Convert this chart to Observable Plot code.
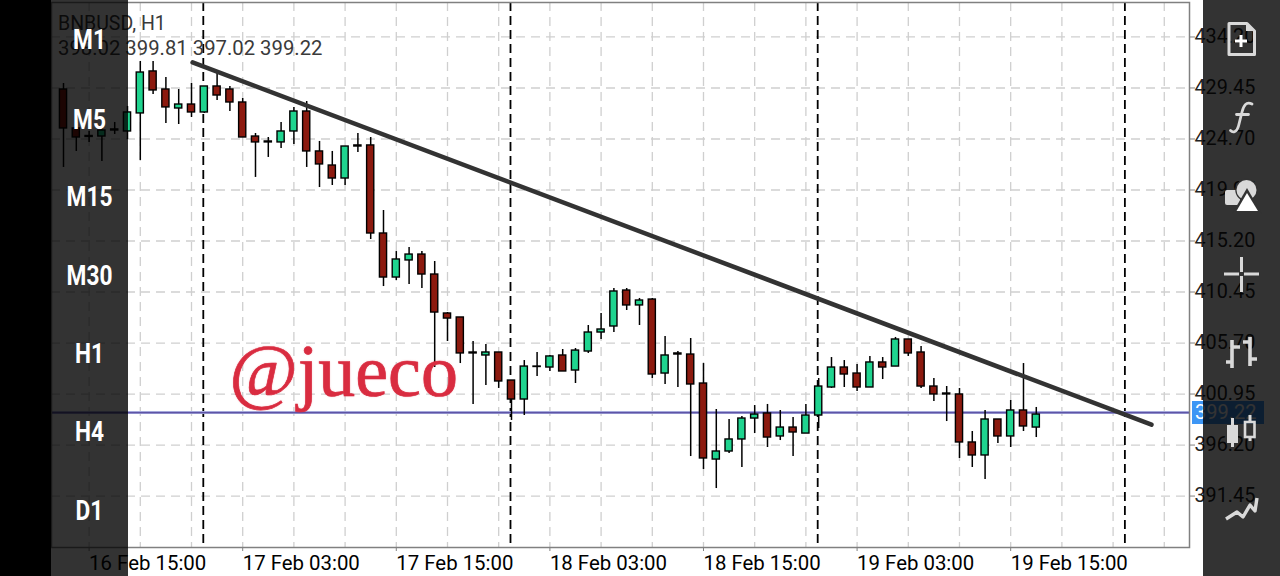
<!DOCTYPE html>
<html>
<head>
<meta charset="utf-8">
<script src="https://cdn.jsdelivr.net/npm/d3@7"></script>
<script src="https://cdn.jsdelivr.net/npm/@observablehq/plot@0.6"></script>
<style>
html,body{margin:0;padding:0;background:#000;width:1280px;height:576px;overflow:hidden}
#stage{position:relative;width:1280px;height:576px;overflow:hidden;font-family:Roboto,sans-serif}
#chart svg{display:block;background:#fff}
.abs{position:absolute}
.hdr{color:#3a3a3a;line-height:22px;white-space:nowrap;left:58px}
.tf{color:#fff;font-weight:700;font-size:27px;line-height:30px;left:51px;width:77px;text-align:center;transform:scaleX(.84)}
</style>
</head>
<body>
<div id="stage">
  <div id="chart"></div>
  <div class="abs" style="left:1192px;top:401px;width:72px;height:23px;background:#3d96f5;color:#fff;font-size:20px;line-height:23px;padding-left:3px;box-sizing:border-box">399.22</div>
  <div class="abs hdr" style="top:13px;font-size:19.5px">BNBUSD, H1</div>
  <div class="abs hdr" style="top:37px;font-size:20.3px">398.02 399.81 397.02 399.22</div>
  <div class="abs" id="wm" style="left:229.5px;top:329px;font-family:'Liberation Serif',serif;font-size:74px;line-height:84px;color:#d92c40;white-space:nowrap;-webkit-text-stroke:.7px #d92c40;text-shadow:0 0 2px rgba(217,44,64,.35)">@jueco</div>
  <div class="abs" style="left:0;top:0;width:51px;height:576px;background:#000"></div>
  <div class="abs" style="left:51px;top:0;width:77px;height:576px;background:rgba(0,0,0,.8)"></div>
  <div class="abs" style="left:1203px;top:0;width:77px;height:576px;background:rgba(0,0,0,.8)"></div>
  <div id="tfs"></div>
  <svg class="abs" style="left:1203px;top:0" width="77" height="576" viewBox="1203 0 77 576" fill="none" stroke="#d9d9d9" stroke-width="3">
    <path d="M1229 23.5H1247L1254.5 31V54.5H1229Z" stroke-linejoin="round"/>
    <path d="M1235 41H1247M1241 35V47" stroke="#fff"/>
    <path d="M1246 23L1246 31H1254.5Z" fill="#d9d9d9" stroke="none"/>
    <path d="M1252 104C1246 101,1243.5 106,1242 112L1238.5 126C1237 132,1233 133,1230.5 130.5M1236.5 114.5H1248.5" stroke-width="2.8" stroke-linecap="round"/>
    <rect x="1225" y="190" width="15" height="15" rx="2" fill="#d9d9d9" stroke="none"/>
    <circle cx="1246.5" cy="190" r="10" fill="#d9d9d9" stroke="#333" stroke-width="2.5" paint-order="stroke"/>
    <path d="M1247 188L1262 214H1232Z" fill="#333" stroke="none"/>
    <path d="M1247 193L1258 211H1236.5Z" fill="#fff" stroke="none"/>
    <path d="M1224 274H1239M1244 274H1259M1241.5 257V272M1241.5 276V292"/>
    <path d="M1232 340V368M1226 362H1232M1232 347H1240M1250 337V366M1243 342H1250M1250 359H1257" stroke-width="3.6"/>
    <rect x="1227" y="425" width="11" height="18" fill="#d9d9d9" stroke="none"/>
    <path d="M1232.5 418V447"/>
    <rect x="1245" y="422" width="9.5" height="15" stroke-width="2.6"/>
    <path d="M1250 415V422M1250 437V441"/>
    <path d="M1226 519L1237 512L1243 517L1250 505L1255 511L1257 498" stroke-width="3.4" stroke-linejoin="round"/>
  </svg>
</div>
<script>
const firstHour = Date.UTC(2024, 1, 16, 13);
const opens  = [429.31,425.68,424.98,424.93,425.49,425.40,427.08,430.99,429.31,427.54,427.91,427.17,429.59,429.31,428.10,424.93,424.47,424.38,425.40,427.26,423.54,422.23,421.02,424.10,424.10,415.90,411.80,413.39,413.94,412.08,408.45,408.08,404.82,404.54,404.82,402.21,400.44,403.47,403.42,404.54,403.14,404.91,406.68,407.24,410.59,409.20,409.75,402.86,404.73,404.63,401.93,394.85,395.60,396.72,398.67,399.14,397.00,397.83,397.27,398.95,401.56,403.42,402.86,401.56,403.89,403.51,406.03,404.82,401.65,401.00,400.91,396.44,395.23,398.58,397.00,399.42,397.83];
const highs  = [429.87,426.05,425.40,425.96,426.24,427.73,431.92,431.92,430.43,429.31,429.87,429.59,430.89,429.59,428.47,425.21,424.84,426.24,427.64,428.19,424.47,423.54,424.00,425.21,424.84,418.04,414.22,414.60,414.22,413.29,408.54,408.08,405.84,405.56,404.82,402.21,404.07,404.82,404.54,405.10,405.19,407.33,408.45,410.78,410.78,409.85,409.85,406.31,404.91,406.12,403.79,399.51,398.58,398.86,399.88,399.98,399.42,398.76,399.98,402.40,404.35,404.07,403.70,404.45,404.35,406.22,406.03,405.38,402.40,401.65,401.47,397.46,399.42,398.58,400.35,403.79,399.70];
const lows   = [422.05,423.54,424.38,422.61,425.12,424.65,422.70,428.85,426.14,426.05,426.70,427.08,428.29,427.26,424.84,421.12,422.98,423.82,424.19,422.05,420.18,420.37,420.37,423.44,415.34,410.96,411.52,411.15,410.78,403.42,405.84,403.79,399.98,401.74,401.47,398.49,398.95,402.58,403.05,403.05,401.93,404.73,406.03,406.68,408.73,407.33,402.40,401.84,401.56,395.13,393.92,392.15,395.41,394.11,397.27,395.97,396.62,395.13,397.27,397.74,401.47,401.56,401.19,401.56,402.30,403.51,404.45,401.47,400.25,398.39,394.95,394.11,392.99,396.34,395.97,397.46,396.90];
const closes = [425.68,424.84,424.89,425.49,425.59,427.17,430.89,429.22,427.64,427.91,427.17,429.59,428.75,428.10,424.84,424.38,424.38,425.40,427.26,423.54,422.33,421.02,424.00,424.00,415.90,411.80,413.48,413.94,412.08,408.54,407.98,404.73,404.73,404.82,402.12,400.44,403.51,403.51,404.45,403.05,405.00,406.68,406.96,410.50,409.20,409.66,402.77,404.54,404.63,401.84,394.95,395.60,396.72,398.67,399.04,396.90,397.83,397.37,398.95,401.65,403.42,402.77,401.56,403.89,403.42,406.03,404.73,401.65,400.91,400.91,396.44,395.23,398.58,397.00,399.42,397.93,399.04];

const priceTicks = [434.20,429.45,424.70,419.95,415.20,410.45,405.70,400.95,396.20,391.45];
const dateTicks = ["2024-02-16T15:00Z","2024-02-17T03:00Z","2024-02-17T15:00Z","2024-02-18T03:00Z","2024-02-18T15:00Z","2024-02-19T03:00Z","2024-02-19T15:00Z"].map(d => new Date(d));
const daySeparators = ["2024-02-17T00:00Z","2024-02-18T00:00Z","2024-02-19T00:00Z","2024-02-20T00:00Z"].map(d => new Date(d));
const gridHours = d3.utcHour.range(new Date("2024-02-16T15:00Z"), new Date("2024-02-20T04:00Z"), 4);
const lastClose = 399.22;
const trendTimes = ["2024-02-16T23:05Z","2024-02-20T02:00Z"].map(d => new Date(d));
const trendPrices = [431.83,398.10];
const timeframes = ["M1","M5","M15","M30","H1","H4","D1"];
const timeframeTops = [25,105,182,261,339,417,496];

const hour = 3600000;
const candles = opens.map((o, i) => {
  const t = firstHour + i * hour;
  return {t: new Date(t), a: new Date(t - .28 * hour), b: new Date(t + .28 * hour),
          o, c: closes[i], h: highs[i], l: lows[i], up: closes[i] >= o};
});
const trend = trendTimes.map((t, i) => ({t, p: trendPrices[i]}));

const chart = Plot.plot({
  width: 1280, height: 576,
  marginLeft: 51, marginRight: 91, marginTop: 2, marginBottom: 29,
  x: {type: "utc", domain: [new Date(firstHour - .9375 * hour), new Date(firstHour + 87.97 * hour)]},
  y: {domain: [386.66, 437.41]},
  style: {fontFamily: "Roboto, sans-serif", background: "#fff"},
  marks: [
    Plot.ruleY(priceTicks, {stroke: "#cfcfcf", strokeWidth: 1.3, strokeDasharray: "9,6"}),
    Plot.ruleX(gridHours, {stroke: "#cfcfcf", strokeWidth: 1.3, strokeDasharray: "9,6"}),
    Plot.ruleX(daySeparators, {stroke: "#000", strokeWidth: 1.8, strokeDasharray: "9,5", dx: -1}),
    Plot.ruleY([lastClose], {stroke: "#bcc6ee", strokeWidth: 3}),
    Plot.ruleY([lastClose], {stroke: "#5f54a6", strokeWidth: 1.6}),
    Plot.ruleX(candles, {x: "t", y1: "l", y2: "h", stroke: "#000", strokeWidth: 1.5}),
    Plot.rect(candles, {x1: "a", x2: "b", y1: "o", y2: "c", fill: d => d.up ? "#1fd48f" : "#8c1a0f", stroke: "#000", strokeWidth: 1.4}),
    Plot.line(trend, {x: "t", y: "p", stroke: "#333", strokeWidth: 4.5}),
    Plot.frame({stroke: "#808080", strokeWidth: 1.5}),
    Plot.axisY(priceTicks, {anchor: "right", tickSize: 5, tickPadding: 0, fontSize: 19.8, color: "#222", stroke: "#808080", tickFormat: d => d.toFixed(2), label: null}),
    Plot.axisX(dateTicks, {anchor: "bottom", tickSize: 4, tickPadding: 4, fontSize: 20.4, textAnchor: "start", stroke: "#808080", tickFormat: d3.utcFormat("%d %b %H:%M"), label: null})
  ]
});
document.getElementById("chart").appendChild(chart);

const tfs = document.getElementById("tfs");
timeframes.forEach((s, i) => {
  const el = document.createElement("div");
  el.className = "abs tf";
  el.style.top = timeframeTops[i] + "px";
  el.textContent = s;
  tfs.appendChild(el);
});
</script>
</body>
</html>
